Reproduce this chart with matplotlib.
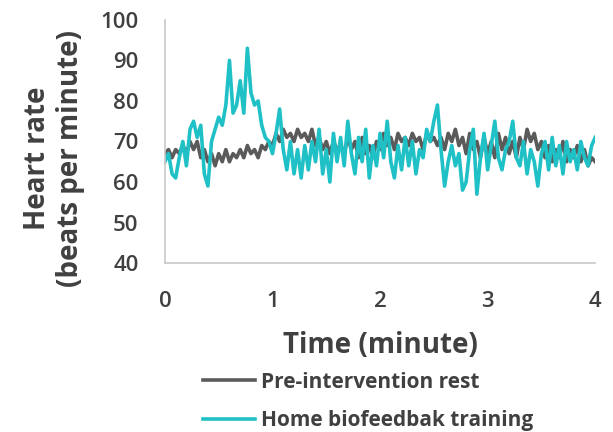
import matplotlib.pyplot as plt

# waktu dalam detik (setiap 2 detik, 0-240 s)
seconds = list(range(0, 242, 2))

# Home biofeedback training (cyan)
home_hr = [65, 67, 62, 61, 66, 70, 64, 73, 75, 71, 74, 62, 59, 70, 73, 76, 74, 79, 90, 77,
           79, 85, 77, 93, 82, 79, 80, 74, 71, 70, 67, 72, 78, 68, 63, 70, 62, 68, 61, 69,
           63, 70, 65, 73, 62, 68, 60, 72, 65, 71, 64, 75, 67, 62, 71, 65, 73, 61, 69, 64,
           72, 66, 75, 65, 61, 69, 63, 71, 64, 70, 62, 68, 66, 73, 70, 75, 79, 68, 59, 65,
           69, 64, 67, 58, 60, 68, 73, 57, 66, 72, 63, 69, 75, 66, 63, 68, 70, 75, 66, 64,
           70, 62, 68, 65, 59, 67, 70, 63, 71, 64, 69, 62, 70, 65, 68, 63, 70, 66, 64, 69,
           71]

# Pre-intervention rest (abu-abu)
rest_hr = [67, 68, 66, 68, 67, 69, 67, 70, 68, 70, 66, 68, 65, 67, 64, 67, 65, 68, 65, 67,
           66, 68, 66, 69, 67, 68, 66, 69, 68, 70, 69, 72, 70, 73, 71, 72, 70, 73, 71, 72,
           70, 73, 69, 71, 68, 70, 67, 70, 68, 69, 67, 71, 68, 70, 66, 71, 67, 69, 66, 70,
           68, 72, 69, 71, 68, 72, 70, 71, 69, 72, 70, 71, 68, 72, 70, 71, 69, 71, 68, 72,
           70, 73, 69, 71, 67, 72, 68, 70, 66, 71, 67, 70, 66, 72, 68, 71, 67, 70, 66, 71,
           68, 73, 70, 72, 68, 70, 66, 69, 65, 68, 66, 70, 65, 68, 66, 69, 65, 68, 64, 66,
           65]

minutes = [s / 60 for s in seconds]

plt.rcParams['font.family'] = ['Open Sans', 'DejaVu Sans']
text_color = '#404040'

fig = plt.figure(figsize=(6.13, 4.32), dpi=100)
ax = fig.add_axes([0.269, 0.391, 0.702, 0.563])

ax.plot(minutes, rest_hr, color='#5a5a5a', lw=2.6, label='Pre-intervention rest')
ax.plot(minutes, home_hr, color='#1fc0c6', lw=2.6, label='Home biofeedbak training')

ax.set_xlim(0, 4)
ax.set_ylim(40, 100)
ax.set_xticks([0, 1, 2, 3, 4])
ax.set_yticks(range(40, 101, 10))

for s in ['top', 'right']:
    ax.spines[s].set_visible(False)
for s in ['left', 'bottom']:
    ax.spines[s].set_color('#c8c8c8')
    ax.spines[s].set_linewidth(1.2)

ax.tick_params(axis='both', length=0, labelsize=16, labelcolor=text_color)
ax.tick_params(axis='x', pad=20)
ax.tick_params(axis='y', pad=19)
for lbl in ax.get_xticklabels() + ax.get_yticklabels():
    lbl.set_fontweight('semibold')

ax.set_xlabel('Time (minute)', fontsize=20, fontweight='bold', color=text_color, labelpad=14)
fig.text(0.088, 0.634, 'Heart rate\n(beats per minute)', rotation=90, ha='center', va='center',
         multialignment='center', fontsize=20, fontweight='bold', color=text_color,
         linespacing=1.15)

fig.legend(loc='upper left', bbox_to_anchor=(0.30, 0.183), frameon=False,
           handlelength=2.5, handletextpad=0.3, labelspacing=0.85,
           prop={'size': 15, 'weight': 'bold'}, labelcolor=text_color)

fig.savefig('out.png', dpi=100)
